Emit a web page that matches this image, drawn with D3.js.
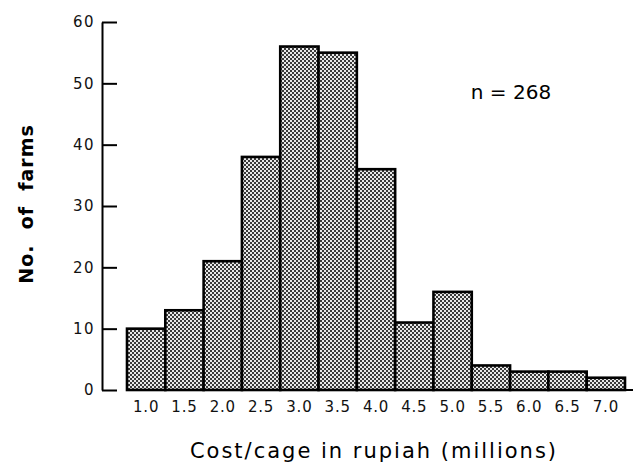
<!DOCTYPE html>
<html>
<head>
<meta charset="utf-8">
<script src="https://cdn.jsdelivr.net/npm/d3@7/dist/d3.min.js"></script>
<style>
  html, body { margin: 0; padding: 0; background: #fff; }
  svg { display: block; }
</style>
</head>
<body>
<svg id="chart" width="635" height="466"></svg>
<script>
const categories = ["1.0","1.5","2.0","2.5","3.0","3.5","4.0","4.5","5.0","5.5","6.0","6.5","7.0"];
const counts = [10, 13, 21, 38, 56, 55, 36, 11, 16, 4, 3, 3, 2];
const yTicks = [0, 10, 20, 30, 40, 50, 60];
const totalLabel = "n = 268";
const xTitle = "Cost/cage in rupiah (millions)";
const yTitle = "No.  of  farms";

const svg = d3.select("#chart");
const font = "'DejaVu Sans', 'Liberation Sans', sans-serif";

// halftone pattern
const defs = svg.append("defs");
const pat = defs.append("pattern").attr("id", "halftone")
  .attr("patternUnits", "userSpaceOnUse").attr("width", 4).attr("height", 4);
pat.append("rect").attr("width", 4).attr("height", 4).attr("fill", "#e8e8e8");
pat.append("rect").attr("x", 0).attr("y", 0).attr("width", 2).attr("height", 2).attr("fill", "#3a3a3a");
pat.append("rect").attr("x", 2).attr("y", 2).attr("width", 2).attr("height", 2).attr("fill", "#3a3a3a");

const y = d3.scaleLinear().domain([0, 60]).range([390, 22]);
const x = d3.scaleBand().domain(categories).range([127, 625]).padding(0);

// y axis
const yAxis = d3.axisLeft(y).tickValues(yTicks).tickSizeInner(-15).tickSizeOuter(0).tickPadding(7);
const gy = svg.append("g").attr("transform", "translate(102,0)").call(yAxis);
gy.select(".domain").attr("stroke", "#000").attr("stroke-width", 2);
gy.selectAll(".tick line").attr("stroke", "#000").attr("stroke-width", 2);
gy.selectAll(".tick text").attr("font-family", font).attr("font-size", 15)
  .attr("fill", "#111").attr("letter-spacing", 1.5);

// baseline
svg.append("line").attr("x1", x.range()[0]).attr("x2", 633)
  .attr("y1", y(0)).attr("y2", y(0)).attr("stroke", "#000").attr("stroke-width", 2);

// bars
svg.append("g").selectAll("rect").data(counts).join("rect")
  .attr("x", (d, i) => x(categories[i]))
  .attr("y", d => y(d))
  .attr("width", x.bandwidth())
  .attr("height", d => y(0) - y(d))
  .attr("fill", "url(#halftone)")
  .attr("stroke", "#000").attr("stroke-width", 2.6);

// x axis labels
const xAxis = d3.axisBottom(x).tickSize(0).tickPadding(11);
const gx = svg.append("g").attr("transform", `translate(0,${y(0)})`).call(xAxis);
gx.select(".domain").remove();
gx.selectAll(".tick text").attr("font-family", font).attr("font-size", 15)
  .attr("fill", "#111").attr("letter-spacing", 0.8);

// titles
svg.append("text").attr("x", 374).attr("y", 458).attr("text-anchor", "middle")
  .attr("font-family", font).attr("font-size", 21).attr("letter-spacing", 2)
  .attr("fill", "#000").text(xTitle);

svg.append("text").attr("transform", "translate(33,204) rotate(-90)")
  .attr("text-anchor", "middle").attr("font-family", font).attr("font-size", 19)
  .attr("font-weight", "bold").attr("letter-spacing", 1).attr("fill", "#000")
  .style("white-space", "pre").text(yTitle);

svg.append("text").attr("x", 511).attr("y", 99).attr("text-anchor", "middle")
  .attr("font-family", font).attr("font-size", 20).attr("fill", "#000")
  .style("white-space", "pre").text(totalLabel);
</script>
</body>
</html>
